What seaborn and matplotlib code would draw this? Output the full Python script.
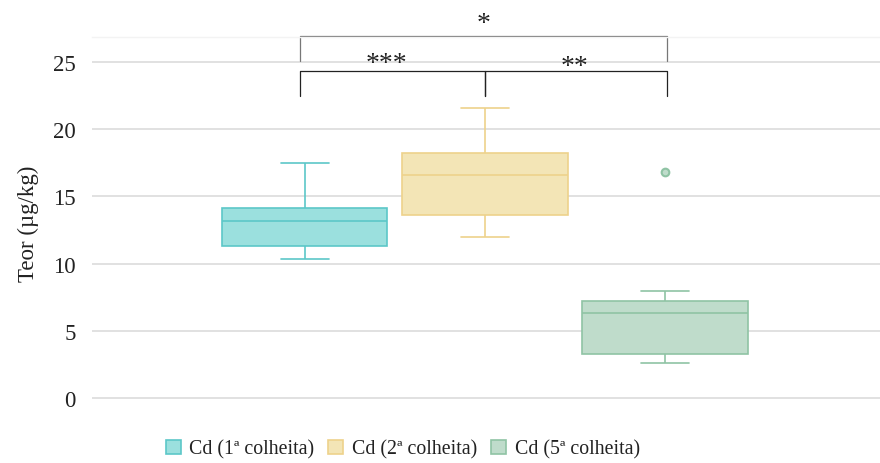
import numpy as np
import pandas as pd
import matplotlib
matplotlib.use("Agg")
import matplotlib.pyplot as plt
from matplotlib.patches import Patch
import seaborn as sns

# Cd content (µg/kg) for each harvest
groups = ["Cd (1ª colheita)", "Cd (2ª colheita)", "Cd (5ª colheita)"]
cd_1 = [10.37, 10.9, 11.29, 12.4, 13.15, 13.7, 14.16, 15.6, 17.49]
cd_2 = [12.0, 12.9, 13.62, 15.3, 16.59, 17.4, 18.25, 19.8, 21.58]
cd_3 = [2.63, 2.95, 3.25, 5.1, 6.30, 6.8, 7.19, 7.98, 16.82]
y_ticks = [0, 5, 10, 15, 20, 25]
y_label = "Teor (µg/kg)"

# pairwise comparisons: (group a, group b, significance)
comparisons = [(0, 1, "***"), (1, 2, "**"), (0, 2, "*")]

df = pd.DataFrame({
    "grupo": np.repeat(groups, [len(cd_1), len(cd_2), len(cd_3)]),
    "teor": cd_1 + cd_2 + cd_3,
})

fills = ["#9be0de", "#f3e5b6", "#bfdccb"]
edges = ["#5cc7c8", "#eed28b", "#8fc3a4"]

sns.set_theme(style="white")
plt.rcParams["font.family"] = ["Liberation Serif", "DejaVu Serif"]

fig = plt.figure(figsize=(8.8, 4.64), dpi=100)
ax = fig.add_axes([0.1045, 0.1164, 0.8955, 0.8017])

sns.boxplot(data=df, x="grupo", y="teor", hue="grupo", order=groups,
            hue_order=groups, palette=fills, width=0.917, legend=False,
            linewidth=1.2, capwidths=0.27, ax=ax,
            flierprops=dict(marker="o", markersize=5.5))

# give each box its own outline colour
for cont, fc, ec in zip(ax.containers, fills, edges):
    for b in cont.boxes:
        b.set_facecolor(fc)
        b.set_edgecolor(ec)
    for ln in list(cont.medians) + list(cont.whiskers) + list(cont.caps):
        ln.set_color(ec)
    for fl in cont.fliers:
        fl.set_markerfacecolor(fc)
        fl.set_markeredgecolor(ec)
        fl.set_markeredgewidth(1.5)

ax.set_xlim(-1.183, 3.194)
ax.set_ylim(-0.82, 26.86)
ax.set_yticks(y_ticks)
ax.set_xticks([])
ax.set_xlabel("")
ax.set_ylabel(y_label, fontsize=16.5, color="#222222", labelpad=10)
ax.tick_params(axis="y", length=0, pad=11.5, labelsize=16.5, labelcolor="#222222")
ax.yaxis.grid(True, color="#d9d9d9", linewidth=1.1)
ax.set_axisbelow(True)
for side in ["left", "right", "bottom"]:
    ax.spines[side].set_visible(False)
ax.spines["top"].set_color("#f3f3f3")
ax.spines["top"].set_linewidth(1.0)

# significance brackets
lower_y, lower_leg = 24.31, 22.47
upper_y, upper_leg = 26.9, 25.04
star_pos = {(0, 1): (0.45, 24.87), (1, 2): (1.5, 24.65), (0, 2): (0.99, 27.88)}
for a, b, stars in comparisons:
    xa = a - 0.03 if a == 0 else a
    xb = b + 0.01 if b == 2 else b
    if b - a == 1:
        ax.plot([xa, xa, xb, xb], [lower_leg, lower_y, lower_y, lower_leg],
                color="#222222", linewidth=0.9, clip_on=False)
    else:
        ax.plot([xa, xa, xb, xb], [upper_leg, upper_y, upper_y, upper_leg],
                color="#777777", linewidth=0.9, clip_on=False)
    tx, ty = star_pos[(a, b)]
    ax.text(tx, ty, stars, ha="center", va="center", fontsize=20,
            color="#222222", clip_on=False)

handles = [Patch(facecolor=fc, edgecolor=ec, linewidth=1.2)
           for fc, ec in zip(fills, edges)]
fig.legend(handles, groups, loc="center", bbox_to_anchor=(0.458, 0.03),
           ncol=3, frameon=False, fontsize=14.3, handlelength=0.75,
           handleheight=0.75, handletextpad=0.45, columnspacing=0.7,
           labelcolor="#222222")

fig.savefig("out.png", dpi=100)
